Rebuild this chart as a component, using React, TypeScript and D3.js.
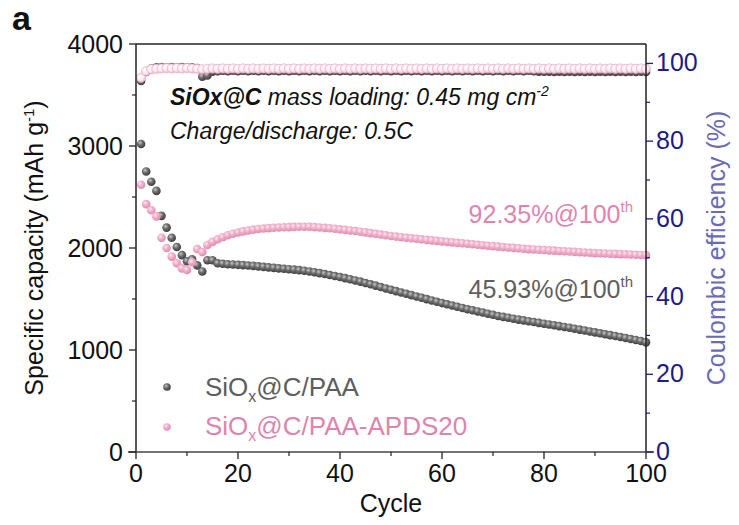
import React from "react";
import * as d3 from "d3";

// ---- Data ----
const paaCapacity: number[] = [
  3020, 2750, 2650, 2560, 2315, 2200, 2100, 2010, 1930, 1870,
  1890, 1830, 1770, 1880, 1880, 1850, 1845, 1840, 1838, 1835,
  1832, 1828, 1825, 1820, 1815, 1810, 1805, 1800, 1796, 1792,
  1788, 1783, 1777, 1770, 1762, 1754, 1745, 1735, 1725, 1715,
  1705, 1694, 1682, 1670, 1657, 1644, 1631, 1617, 1603, 1590,
  1577, 1564, 1551, 1538, 1525, 1512, 1499, 1486, 1473, 1460,
  1448, 1436, 1424, 1412, 1400, 1389, 1378, 1367, 1356, 1345,
  1334, 1325, 1316, 1307, 1298, 1290, 1282, 1274, 1266, 1258,
  1250, 1242, 1234, 1226, 1218, 1209, 1200, 1191, 1182, 1173,
  1164, 1155, 1146, 1137, 1128, 1118, 1108, 1098, 1088, 1075,
];
const apdsCapacity: number[] = [
  2620, 2430, 2370, 2310, 2100, 2000, 1915, 1850, 1800, 1785,
  1860, 1990, 1960, 2030, 2060, 2085, 2105, 2125, 2140, 2152,
  2163, 2172, 2180, 2186, 2191, 2195, 2198, 2201, 2203, 2205,
  2207, 2208, 2209, 2208, 2205, 2201, 2197, 2193, 2188, 2183,
  2178, 2172, 2166, 2160, 2153, 2146, 2139, 2132, 2125, 2118,
  2112, 2106, 2100, 2095, 2090, 2085, 2080, 2075, 2070, 2065,
  2060, 2055, 2050, 2046, 2042, 2037, 2032, 2027, 2022, 2018,
  2013, 2009, 2005, 2001, 1997, 1993, 1989, 1986, 1983, 1980,
  1977, 1974, 1971, 1968, 1965, 1962, 1959, 1956, 1953, 1950,
  1948, 1946, 1944, 1942, 1940, 1938, 1936, 1934, 1932, 1930,
];
const paaCE: number[] = [
  95.5, 97.8, 98.7, 99.0, 99.1, 99.0, 99.1, 99.0, 99.1, 99.0,
  99.0, 98.8, 96.6, 96.9, 97.9, 98.0, 98.1, 98.0, 98.1, 98.0,
  98.1, 98.0, 98.1, 98.0, 98.1, 98.0, 98.1, 98.0, 98.1, 98.0,
  98.1, 98.0, 98.1, 98.0, 98.1, 98.0, 98.1, 98.0, 98.1, 98.0,
  98.1, 98.0, 98.1, 98.0, 98.1, 98.0, 98.1, 98.0, 98.1, 98.0,
  98.1, 98.0, 98.1, 98.0, 98.1, 98.0, 98.1, 98.0, 98.1, 98.0,
  98.1, 98.0, 98.1, 98.0, 98.1, 98.0, 98.1, 98.0, 98.1, 98.0,
  98.1, 98.0, 98.1, 98.0, 98.1, 98.0, 98.1, 98.0, 97.9, 97.9,
  97.9, 97.8, 97.9, 97.8, 97.9, 97.8, 97.9, 97.8, 97.9, 97.8,
  97.9, 97.8, 97.9, 97.8, 97.9, 97.8, 97.9, 97.8, 97.9, 97.8,
];
const apdsCE: number[] = [
  96.3, 98.0, 98.5, 98.6, 98.7, 98.8, 98.7, 98.8, 98.7, 98.8,
  98.7, 98.6, 98.5, 98.6, 98.7, 98.6, 98.7, 98.6, 98.7, 98.6,
  98.7, 98.6, 98.7, 98.6, 98.7, 98.6, 98.7, 98.6, 98.7, 98.6,
  98.7, 98.6, 98.7, 98.6, 98.7, 98.6, 98.7, 98.6, 98.7, 98.6,
  98.7, 98.6, 98.7, 98.6, 98.7, 98.6, 98.7, 98.6, 98.7, 98.6,
  98.7, 98.6, 98.7, 98.6, 98.7, 98.6, 98.7, 98.6, 98.7, 98.6,
  98.7, 98.6, 98.7, 98.6, 98.7, 98.6, 98.7, 98.6, 98.7, 98.6,
  98.7, 98.6, 98.7, 98.6, 98.7, 98.6, 98.7, 98.6, 98.7, 98.6,
  98.7, 98.6, 98.7, 98.6, 98.7, 98.6, 98.7, 98.6, 98.7, 98.6,
  98.7, 98.6, 98.7, 98.6, 98.7, 98.6, 98.7, 98.6, 98.7, 98.6,
];
const cycles: number[] = paaCapacity.map((_, i) => i + 1);

const xTicks = [0, 20, 40, 60, 80, 100];
const xMinor = [10, 30, 50, 70, 90];
const yLeftTicks = [0, 1000, 2000, 3000, 4000];
const yLeftMinor = [500, 1500, 2500, 3500];
const yRightTicks = [0, 20, 40, 60, 80, 100];
const yRightMinor = [10, 30, 50, 70, 90];

const FONT = "Arial, 'Liberation Sans', Helvetica, sans-serif";
const W = 739;
const H = 525;
const M = { left: 136, right: 646, top: 44, bottom: 452 };

const NAVY = "#1c1c86";
const NAVY_LIGHT = "#6a6ab8";
const GREY_TXT = "#5e5e5e";
const PINK_TXT = "#df84ad";

export default function App() {
  const x = d3.scaleLinear().domain([0, 100]).range([M.left, M.right]);
  const yL = d3.scaleLinear().domain([0, 4000]).range([M.bottom, M.top]);
  const yR = d3.scaleLinear().domain([0, 105]).range([M.bottom, M.top]);

  const rCap = 4.3;
  const rCE = 4.6;

  return (
    <svg width={W} height={H} style={{ position: "absolute", left: 0, top: 0, background: "#fff" }} fontFamily={FONT}>
      <defs>
        <radialGradient id="gGrey" cx="38%" cy="35%" r="65%">
          <stop offset="0%" stopColor="#c8c8c8" />
          <stop offset="45%" stopColor="#6e6e6e" />
          <stop offset="100%" stopColor="#3e3e3e" />
        </radialGradient>
        <radialGradient id="gPink" cx="38%" cy="35%" r="65%">
          <stop offset="0%" stopColor="#fde9f1" />
          <stop offset="45%" stopColor="#f0b0ca" />
          <stop offset="100%" stopColor="#e08cb0" />
        </radialGradient>
        <radialGradient id="gPinkCE" cx="40%" cy="38%" r="65%">
          <stop offset="0%" stopColor="#ffffff" />
          <stop offset="60%" stopColor="#fbe6ee" />
          <stop offset="100%" stopColor="#eeb2cb" />
        </radialGradient>
        <clipPath id="plotClip">
          <rect x={M.left - 6} y={M.top - 2} width={M.right - M.left + 12} height={M.bottom - M.top + 4} />
        </clipPath>
      </defs>

      {/* panel letter */}
      <text x={12} y={30} fontSize={34} fontWeight="bold" fill="#111">a</text>

      {/* data: CE */}
      <g clipPath="url(#plotClip)">
        {paaCE.map((v, i) => (
          <circle key={"gce" + i} cx={x(cycles[i])} cy={yR(v)} r={rCE - 0.3} fill="url(#gGrey)" />
        ))}
        {apdsCE.map((v, i) => (
          <circle key={"pce" + i} cx={x(cycles[i])} cy={yR(v)} r={rCE} fill="url(#gPinkCE)" stroke="#e9a6c2" strokeWidth={0.7} />
        ))}
        {/* capacity */}
        {paaCapacity.map((v, i) => (
          <circle key={"gc" + i} cx={x(cycles[i])} cy={yL(v)} r={rCap} fill="url(#gGrey)" />
        ))}
        {apdsCapacity.map((v, i) => (
          <circle key={"pc" + i} cx={x(cycles[i])} cy={yL(v)} r={rCap} fill="url(#gPink)" />
        ))}
      </g>

      {/* frame */}
      <line x1={M.left} x2={M.right} y1={M.top} y2={M.top} stroke="#222" strokeWidth={1.5} />
      <line x1={M.left} x2={M.left} y1={M.top} y2={M.bottom} stroke="#222" strokeWidth={1.5} />
      <line x1={M.right} x2={M.right} y1={M.top} y2={M.bottom} stroke="#222" strokeWidth={1.5} />
      <line x1={M.left - 8} x2={M.right + 8} y1={M.bottom} y2={M.bottom} stroke="#444" strokeWidth={1.5} />

      {/* left axis ticks */}
      {yLeftTicks.map((t) => (
        <g key={"yl" + t}>
          <line x1={M.left - 7} x2={M.left} y1={yL(t)} y2={yL(t)} stroke="#222" strokeWidth={1.3} />
          <text x={M.left - 13} y={yL(t) + 9} fontSize={25} textAnchor="end" fill="#111">{t}</text>
        </g>
      ))}
      {yLeftMinor.map((t) => (
        <line key={"ylm" + t} x1={M.left - 4} x2={M.left} y1={yL(t)} y2={yL(t)} stroke="#222" strokeWidth={1.2} />
      ))}

      {/* right axis ticks */}
      {yRightTicks.map((t) => (
        <g key={"yr" + t}>
          <line x1={M.right} x2={M.right + 7} y1={yR(t)} y2={yR(t)} stroke={NAVY} strokeWidth={1.3} />
          <text x={M.right + 10} y={yR(t) + 8} fontSize={25} textAnchor="start" fill={NAVY}>{t}</text>
        </g>
      ))}
      {yRightMinor.map((t) => (
        <line key={"yrm" + t} x1={M.right} x2={M.right + 4} y1={yR(t)} y2={yR(t)} stroke={NAVY} strokeWidth={1.2} />
      ))}

      {/* bottom axis ticks */}
      {xTicks.map((t) => (
        <g key={"x" + t}>
          <line x1={x(t)} x2={x(t)} y1={M.bottom} y2={M.bottom + 7} stroke="#222" strokeWidth={1.3} />
          <text x={x(t)} y={M.bottom + 30} fontSize={25} textAnchor="middle" fill="#111">{t}</text>
        </g>
      ))}
      {xMinor.map((t) => (
        <line key={"xm" + t} x1={x(t)} x2={x(t)} y1={M.bottom} y2={M.bottom + 4} stroke="#222" strokeWidth={1.2} />
      ))}

      {/* axis titles */}
      <text x={391} y={512} fontSize={25} textAnchor="middle" fill="#111">Cycle</text>
      <text transform={`translate(43,${(M.top + M.bottom) / 2}) rotate(-90)`} fontSize={25} textAnchor="middle" fill="#111">
        Specific capacity (mAh g<tspan dy={-9} fontSize={15}>-1</tspan><tspan dy={9}>)</tspan>
      </text>
      <text transform={`translate(725,${(M.top + M.bottom) / 2}) rotate(-90)`} fontSize={25} textAnchor="middle" fill={NAVY_LIGHT}>
        Coulombic efficiency (%)
      </text>

      {/* annotation block */}
      <text x={170} y={105} fontSize={23} fontStyle="italic" fill="#111">
        <tspan fontWeight="bold">SiOx@C</tspan> mass loading: 0.45 mg cm<tspan dy={-9} fontSize={14}>-2</tspan>
      </text>
      <text x={170} y={139} fontSize={23} fontStyle="italic" fill="#111">Charge/discharge: 0.5C</text>

      {/* retention labels */}
      <text x={633} y={223} fontSize={25} textAnchor="end" fill={PINK_TXT}>
        92.35%@100<tspan dy={-11} fontSize={15}>th</tspan>
      </text>
      <text x={633} y={298} fontSize={25} textAnchor="end" fill={GREY_TXT}>
        45.93%@100<tspan dy={-11} fontSize={15}>th</tspan>
      </text>

      {/* legend */}
      <circle cx={167} cy={387} r={rCap - 0.5} fill="url(#gGrey)" />
      <text x={205} y={396} fontSize={26} fill={GREY_TXT}>
        SiO<tspan dy={6} fontSize={16}>x</tspan><tspan dy={-6}>@C/PAA</tspan>
      </text>
      <circle cx={167} cy={427} r={rCap - 0.5} fill="url(#gPink)" />
      <text x={205} y={435} fontSize={26} fill={PINK_TXT}>
        SiO<tspan dy={6} fontSize={16}>x</tspan><tspan dy={-6}>@C/PAA-APDS20</tspan>
      </text>
    </svg>
  );
}
